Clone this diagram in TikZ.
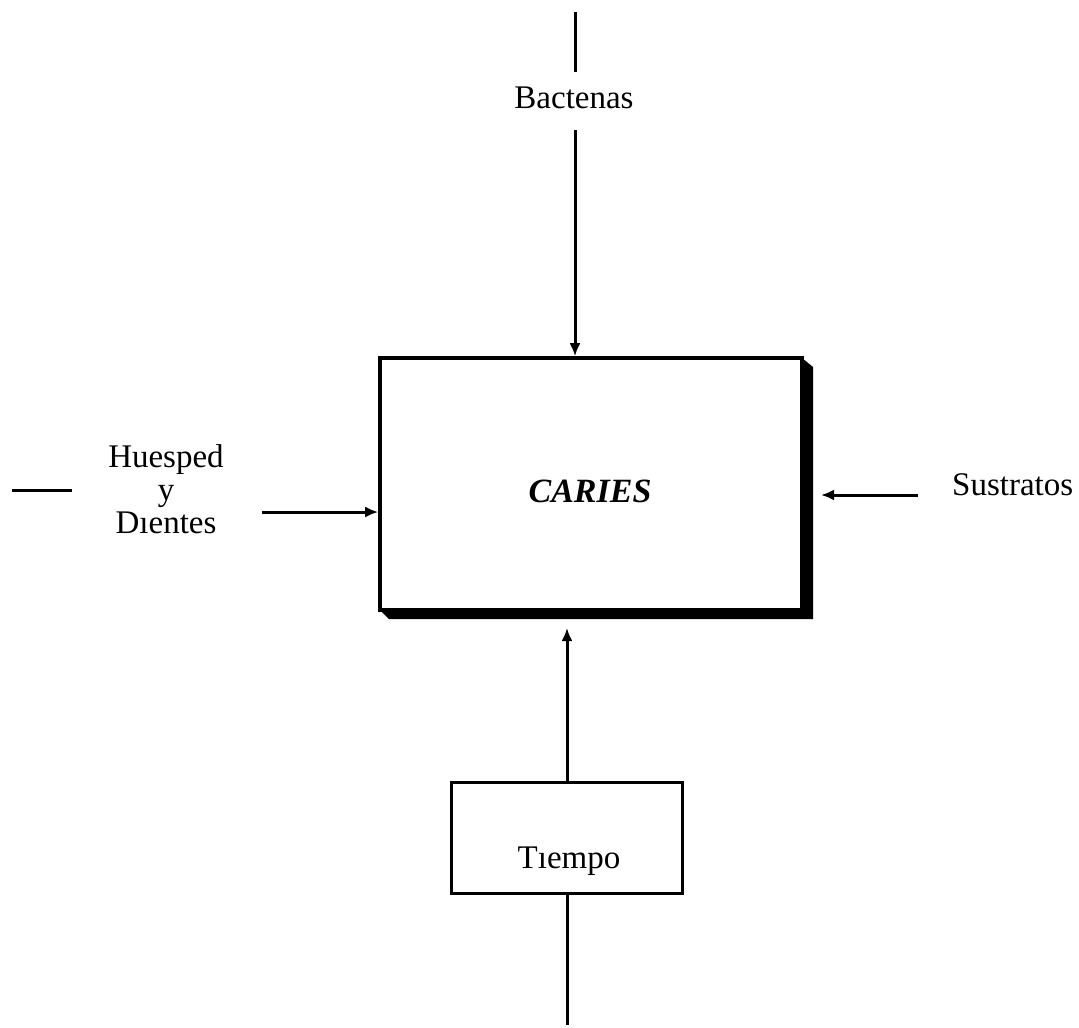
\documentclass[tikz,border=0pt]{standalone}
\usepackage{fontspec}
\setmainfont{Liberation Serif}
\usetikzlibrary{arrows.meta}
\begin{document}
\begin{tikzpicture}[x=1pt,y=-1pt,
  lbl/.style={font=\fontsize{33}{33}\selectfont, inner sep=0pt, anchor=base, align=center},
  conn/.style={line width=3pt},
  arr/.style={conn, -{Latex[length=13pt,width=11pt]}},
  frame/.style={draw, line width=3.6pt, fill=white}]
\useasboundingbox (0,0) rectangle (1079,1028);
% main box with shadow
\fill (802,358) -- (813,367) -- (813,619) -- (389,619) -- (380,610) -- cycle;
\node[frame, minimum width=422pt, minimum height=252pt, inner sep=0pt] (caries) at (591,484) {};
\node[lbl, font=\fontsize{34}{34}\selectfont\bfseries\itshape] (cariestxt) at (590,502) {CARIES};
% Bacterias
\coordinate (btop) at (575,12);
\coordinate (bmid) at (575,72);
\node[lbl] (bact) at (574,108) {Bactenas};
\coordinate (bstart) at (575,130);
\draw[conn] (btop) -- (bmid);
\draw[arr] (bstart) -- (bstart |- caries.north);
% Huesped y Dientes
\node[lbl] (hues) at (166,533) {Huesped\\y\\Dıentes};
\coordinate (hl1) at (12,490);
\coordinate (hl2) at (72,490);
\draw[conn] (hl1) -- (hl2);
\coordinate (ha) at (262,512);
\draw[arr] (ha) -- (ha -| caries.west);
% Sustratos
\node[lbl, anchor=base west] (sus) at (952,495) {Sustratos};
\coordinate (sa) at (918,495);
\draw[arr] (sa) -- (821,495);
% Tiempo
\node[frame, minimum width=231pt, minimum height=111pt, inner sep=0pt] (tiempo) at (567,838) {};
\node[lbl] (tiempotxt) at (569,868) {Tıempo};
\coordinate (tbot) at (567,1025);
\draw[conn] (tiempo.south) -- (tbot);
\draw[arr] (tiempo.north) -- (567,628);
\end{tikzpicture}
\end{document}
